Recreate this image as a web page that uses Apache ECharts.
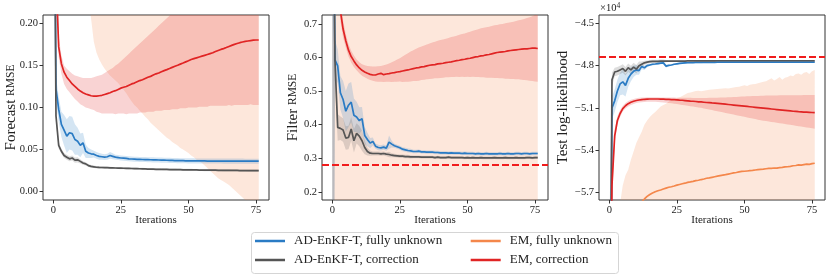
<!DOCTYPE html>
<html><head><meta charset="utf-8">
<script src="https://cdn.jsdelivr.net/npm/echarts@6/dist/echarts.min.js"></script>
<style>html,body{margin:0;padding:0;background:#fff}#c{width:831px;height:278px}</style>
</head><body><div id="c"></div>
<script>
// ---------- data ----------
const iterations = [...Array(77).keys()];
const seriesNames = ['AD-EnKF-T, fully unknown','AD-EnKF-T, correction','EM, fully unknown','EM, correction'];
const xTicks = [0,25,50,75];
const fcTicks = [0,0.05,0.10,0.15,0.20];
const flTicks = [0.2,0.3,0.4,0.5,0.6,0.7];
const llTicks = [-5.7,-5.4,-5.1,-4.8,-4.5];
const filterRef = 0.2775;
const llRef = -4.738;

// Panel 1: Forecast RMSE
const fcBlueMean = [0.60,0.122,0.098,0.080,0.073,0.066,0.070,0.069,0.062,0.060,
 0.055,0.058,0.048,0.046,0.045,0.0445,0.043,0.042,0.0415,0.041,
 0.0415,0.043,0.042,0.041,0.0405,0.0400,0.0398,0.0395,0.0390,0.0388,
 0.0386,0.0384,0.0383,0.0382,0.0381,0.0380,0.0379,0.0378,0.0377,0.0376,
 0.0375,0.0374,0.0373,0.0372,0.0371,0.0370,0.0369,0.0368,0.0368,0.0367,
 0.0366,0.0366,0.0366,0.0365,0.0365,0.0365,0.0365,0.0364,0.0364,0.0364,
 0.0364,0.0364,0.0364,0.0363,0.0363,0.0363,0.0363,0.0363,0.0363,0.0363,
 0.0363,0.0362,0.0362,0.0362,0.0362,0.0362,0.0362];
const fcBlueHalf = [0.05,0.015,0.015,0.015,0.018,0.020,0.020,0.020,0.018,0.016,
 0.014,0.012,0.008,0.006,0.005,0.004,0.004,0.004,0.0035,0.0035,
 0.0035,0.004,0.0035,0.003,0.003,0.003,0.003,0.003,0.003,0.003,
 0.003,0.003,0.003,0.003,0.003,0.003,0.003,0.003,0.003,0.003,
 0.003,0.003,0.003,0.003,0.003,0.003,0.003,0.003,0.003,0.003,
 0.003,0.003,0.003,0.003,0.003,0.003,0.003,0.003,0.003,0.003,
 0.003,0.003,0.003,0.003,0.003,0.003,0.003,0.003,0.003,0.003,
 0.003,0.003,0.003,0.003,0.003,0.003,0.003];
const fcBlackMean = [0.60,0.090,0.055,0.048,0.043,0.041,0.039,0.040,0.0375,0.0378,
 0.036,0.034,0.033,0.031,0.030,0.0295,0.029,0.0288,0.0287,0.0286,
 0.0285,0.0283,0.0282,0.0281,0.0280,0.0279,0.0278,0.0277,0.0276,0.0275,
 0.0274,0.0273,0.0272,0.0271,0.0270,0.0269,0.0268,0.0267,0.0266,0.0266,
 0.0265,0.0264,0.0264,0.0263,0.0262,0.0262,0.0261,0.0261,0.0260,0.0260,
 0.0259,0.0259,0.0258,0.0258,0.0257,0.0257,0.0256,0.0256,0.0255,0.0255,
 0.0255,0.0254,0.0254,0.0253,0.0253,0.0253,0.0252,0.0252,0.0252,0.0251,
 0.0251,0.0251,0.0250,0.0250,0.0250,0.0250,0.0250];
const fcBlackHalf = [0.05,0.008,0.004,0.003,0.003,0.003,0.003,0.003,0.003,0.003,
 0.0025,0.002,0.002,0.0018,0.0016,0.0015,0.0015,0.0015,0.0014,0.0014,
 0.0012,0.0012,0.0012,0.0012,0.0012,0.0012,0.0012,0.0012,0.0012,0.0012,
 0.0012,0.0012,0.0012,0.0012,0.0012,0.0012,0.0012,0.0012,0.0012,0.0012,
 0.0012,0.0012,0.0012,0.0012,0.0012,0.0012,0.0012,0.0012,0.0012,0.0012,
 0.0012,0.0012,0.0012,0.0012,0.0012,0.0012,0.0012,0.0012,0.0012,0.0012,
 0.0012,0.0012,0.0012,0.0012,0.0012,0.0012,0.0012,0.0012,0.0012,0.0012,
 0.0012,0.0012,0.0012,0.0012,0.0012,0.0012,0.0012];
const fcOrangeMean = [1.20,0.90,0.78,0.70,0.65,0.61,0.58,0.55,0.53,0.51,
 0.49,0.47,0.46,0.45,0.44,0.43,0.42,0.415,0.41,0.405,
 0.40,0.395,0.39,0.385,0.38,0.375,0.37,0.365,0.36,0.355,
 0.35,0.348,0.345,0.342,0.34,0.338,0.335,0.332,0.33,0.328,
 0.325,0.322,0.32,0.318,0.315,0.312,0.31,0.308,0.305,0.302,
 0.30,0.298,0.295,0.292,0.29,0.288,0.285,0.282,0.28,0.278,
 0.275,0.272,0.27,0.268,0.265,0.262,0.26,0.258,0.256,0.254,
 0.252,0.25,0.248,0.246,0.244,0.242,0.24];
const fcOrangeLo = [0.80,0.60,0.50,0.45,0.42,0.40,0.38,0.36,0.34,0.32,
 0.30,0.28,0.26,0.235,0.205,0.178,0.165,0.157,0.151,0.146,
 0.142,0.138,0.135,0.132,0.129,0.125,0.121,0.117,0.112,0.107,
 0.103,0.100,0.096,0.093,0.089,0.086,0.082,0.079,0.076,0.073,
 0.070,0.067,0.064,0.062,0.059,0.057,0.055,0.052,0.050,0.048,
 0.046,0.043,0.041,0.038,0.036,0.034,0.031,0.028,0.025,0.022,
 0.019,0.016,0.014,0.012,0.010,0.008,0.005,0.002,-0.001,-0.004,
 -0.007,-0.010,-0.013,-0.016,-0.019,-0.022,-0.025];
const fcOrangeHi = [2.0,1.6,1.4,1.3,1.2,1.1,1.05,1.0,0.95,0.92,
 0.9,0.88,0.86,0.84,0.83,0.82,0.81,0.8,0.79,0.78,
 0.77,0.76,0.75,0.74,0.73,0.72,0.71,0.7,0.69,0.68,
 0.67,0.67,0.66,0.66,0.65,0.65,0.64,0.64,0.63,0.63,
 0.62,0.62,0.61,0.61,0.6,0.6,0.59,0.59,0.58,0.58,
 0.57,0.57,0.56,0.56,0.55,0.55,0.54,0.54,0.54,0.53,
 0.53,0.53,0.52,0.52,0.52,0.51,0.51,0.51,0.5,0.5,
 0.5,0.5,0.5,0.5,0.5,0.5,0.5];
const fcRedMean = [1.00,0.26,0.172,0.152,0.142,0.136,0.132,0.128,0.125,0.122,
 0.1195,0.1175,0.116,0.115,0.114,0.1135,0.1135,0.114,0.1145,0.1155,
 0.1165,0.1175,0.119,0.120,0.1215,0.123,0.124,0.125,0.1265,0.128,
 0.129,0.1305,0.132,0.133,0.1345,0.136,0.137,0.1385,0.140,0.141,
 0.1425,0.1438,0.145,0.1463,0.1477,0.149,0.1502,0.1515,0.1528,0.1542,
 0.1555,0.157,0.158,0.159,0.160,0.161,0.162,0.163,0.164,0.165,
 0.1665,0.1678,0.169,0.170,0.1712,0.1725,0.1738,0.175,0.176,0.177,
 0.1778,0.1785,0.179,0.1795,0.180,0.1802,0.1802];
const fcRedLo = [0.80,0.22,0.160,0.140,0.128,0.122,0.118,0.114,0.110,0.107,
 0.104,0.102,0.100,0.099,0.098,0.097,0.095,0.094,0.093,0.093,
 0.093,0.093,0.093,0.092,0.093,0.093,0.093,0.092,0.093,0.093,
 0.093,0.093,0.094,0.094,0.094,0.095,0.095,0.095,0.096,0.096,
 0.096,0.097,0.097,0.097,0.098,0.098,0.098,0.099,0.099,0.099,
 0.100,0.100,0.100,0.100,0.101,0.101,0.101,0.101,0.102,0.102,
 0.102,0.102,0.102,0.102,0.102,0.103,0.102,0.103,0.103,0.103,
 0.103,0.103,0.103,0.104,0.103,0.103,0.103];
const fcRedHi = [1.20,0.30,0.185,0.162,0.150,0.146,0.143,0.140,0.138,0.137,
 0.136,0.135,0.135,0.135,0.135,0.136,0.137,0.138,0.139,0.141,
 0.143,0.145,0.147,0.150,0.152,0.155,0.158,0.161,0.164,0.167,
 0.170,0.173,0.176,0.179,0.182,0.185,0.188,0.191,0.194,0.197,
 0.200,0.203,0.206,0.209,0.212,0.215,0.218,0.221,0.224,0.227,
 0.230,0.233,0.236,0.239,0.242,0.245,0.248,0.251,0.254,0.257,
 0.260,0.263,0.266,0.269,0.272,0.275,0.278,0.281,0.284,0.287,
 0.290,0.293,0.296,0.299,0.302,0.305,0.308];

// Panel 2: Filter RMSE
const flBlueMean = [1.50,0.593,0.575,0.495,0.475,0.440,0.458,0.467,0.428,0.423,
 0.412,0.418,0.368,0.356,0.345,0.350,0.336,0.332,0.331,0.333,
 0.330,0.348,0.342,0.337,0.334,0.331,0.327,0.325,0.323,0.322,
 0.320,0.320,0.321,0.319,0.319,0.318,0.318,0.318,0.317,0.317,
 0.316,0.316,0.316,0.315,0.316,0.315,0.315,0.315,0.314,0.315,
 0.314,0.314,0.314,0.313,0.314,0.313,0.313,0.314,0.313,0.313,
 0.313,0.313,0.314,0.313,0.313,0.314,0.313,0.313,0.314,0.314,
 0.313,0.314,0.314,0.313,0.314,0.314,0.314];
const flBlueHalf = [3.0,0.06,0.05,0.05,0.055,0.06,0.065,0.06,0.05,0.045,
 0.04,0.035,0.025,0.02,0.015,0.012,0.008,0.008,0.008,0.008,
 0.008,0.02,0.01,0.006,0.006,0.006,0.006,0.006,0.006,0.006,
 0.005,0.005,0.005,0.005,0.005,0.005,0.005,0.005,0.005,0.005,
 0.005,0.005,0.005,0.005,0.005,0.005,0.005,0.005,0.005,0.005,
 0.005,0.005,0.005,0.005,0.005,0.005,0.005,0.005,0.005,0.005,
 0.005,0.005,0.005,0.005,0.005,0.005,0.005,0.005,0.005,0.005,
 0.005,0.005,0.005,0.005,0.005,0.005,0.005];
const flBlackMean = [1.50,0.590,0.392,0.389,0.384,0.360,0.362,0.387,0.352,0.374,
 0.366,0.352,0.332,0.320,0.315,0.314,0.314,0.314,0.313,0.314,
 0.312,0.311,0.309,0.308,0.307,0.306,0.306,0.305,0.305,0.304,
 0.304,0.304,0.304,0.303,0.303,0.303,0.303,0.303,0.302,0.303,
 0.302,0.302,0.302,0.303,0.302,0.302,0.302,0.302,0.302,0.301,
 0.302,0.301,0.302,0.301,0.301,0.302,0.301,0.301,0.301,0.301,
 0.302,0.301,0.301,0.301,0.302,0.301,0.301,0.301,0.302,0.301,
 0.301,0.301,0.302,0.302,0.301,0.302,0.302];
const flBlackHalf = [3.0,0.06,0.04,0.035,0.035,0.035,0.035,0.035,0.035,0.03,
 0.03,0.03,0.02,0.012,0.008,0.006,0.006,0.006,0.006,0.006,
 0.006,0.008,0.006,0.005,0.005,0.005,0.005,0.005,0.005,0.005,
 0.004,0.004,0.004,0.004,0.004,0.004,0.004,0.004,0.004,0.004,
 0.004,0.004,0.004,0.004,0.004,0.004,0.004,0.004,0.004,0.004,
 0.004,0.004,0.004,0.004,0.004,0.004,0.004,0.004,0.004,0.004,
 0.004,0.004,0.004,0.004,0.004,0.004,0.004,0.004,0.004,0.004,
 0.004,0.004,0.004,0.004,0.004,0.004,0.004];
const flOrangeMean = [3.5,2.6,2.2,1.95,1.8,1.7,1.62,1.55,1.5,1.46,
 1.42,1.39,1.36,1.34,1.32,1.3,1.28,1.27,1.26,1.25,
 1.24,1.23,1.22,1.21,1.2,1.19,1.18,1.17,1.16,1.15,
 1.15,1.14,1.14,1.13,1.13,1.12,1.12,1.11,1.11,1.1,
 1.1,1.09,1.09,1.08,1.08,1.07,1.07,1.06,1.06,1.05,
 1.05,1.05,1.04,1.04,1.04,1.03,1.03,1.03,1.02,1.02,
 1.02,1.01,1.01,1.01,1.0,1.0,1.0,0.99,0.99,0.99,
 0.98,0.98,0.98,0.97,0.97,0.97,0.96];
const flOrangeLo = [-3.0,-1.5,-1.0,-0.6,-0.4,-0.3,-0.2,-0.15,-0.1,-0.06,
 -0.03,0.0,0.01,0.02,0.03,0.04,0.05,0.05,0.06,0.06,
 0.07,0.07,0.08,0.08,0.08,0.09,0.09,0.09,0.09,0.1,
 0.1,0.1,0.1,0.1,0.1,0.11,0.11,0.11,0.11,0.11,
 0.11,0.11,0.12,0.12,0.12,0.12,0.12,0.12,0.12,0.12,
 0.12,0.12,0.12,0.12,0.12,0.12,0.12,0.12,0.12,0.12,
 0.12,0.12,0.12,0.12,0.12,0.12,0.12,0.12,0.12,0.12,
 0.12,0.12,0.12,0.12,0.12,0.12,0.12];
const flOrangeHi = [10.0,6.7,5.4,4.5,4.0,3.7,3.44,3.25,3.1,2.98,
 2.87,2.78,2.71,2.66,2.61,2.56,2.51,2.49,2.46,2.44,
 2.41,2.39,2.36,2.34,2.32,2.29,2.27,2.25,2.23,2.2,
 2.2,2.18,2.18,2.16,2.16,2.13,2.13,2.11,2.11,2.09,
 2.09,2.07,2.06,2.04,2.04,2.02,2.02,2.0,2.0,1.98,
 1.98,1.98,1.96,1.96,1.96,1.94,1.94,1.94,1.92,1.92,
 1.92,1.9,1.9,1.9,1.88,1.88,1.88,1.86,1.86,1.86,
 1.84,1.84,1.84,1.82,1.82,1.82,1.8];
const flRedMean = [3.00,1.40,0.95,0.74,0.685,0.650,0.622,0.603,0.590,0.578,
 0.569,0.562,0.557,0.553,0.550,0.548,0.548,0.551,0.553,0.549,
 0.551,0.552,0.554,0.555,0.557,0.558,0.560,0.562,0.563,0.565,
 0.567,0.569,0.570,0.572,0.573,0.575,0.577,0.578,0.579,0.581,
 0.582,0.583,0.585,0.586,0.587,0.589,0.591,0.592,0.594,0.595,
 0.597,0.598,0.600,0.602,0.603,0.605,0.606,0.608,0.609,0.611,
 0.613,0.615,0.616,0.617,0.618,0.620,0.621,0.622,0.623,0.624,
 0.625,0.626,0.626,0.627,0.628,0.628,0.627];
const flRedHi = [3.2,1.6,1.05,0.77,0.71,0.67,0.64,0.62,0.606,0.594,
 0.586,0.580,0.577,0.575,0.574,0.573,0.573,0.574,0.575,0.577,
 0.579,0.582,0.586,0.590,0.594,0.598,0.603,0.608,0.613,0.618,
 0.622,0.626,0.630,0.633,0.636,0.639,0.642,0.645,0.647,0.650,
 0.652,0.654,0.656,0.658,0.661,0.663,0.665,0.668,0.670,0.672,
 0.675,0.677,0.680,0.682,0.684,0.687,0.689,0.690,0.692,0.694,
 0.696,0.697,0.699,0.700,0.702,0.704,0.705,0.707,0.709,0.711,
 0.713,0.715,0.718,0.720,0.723,0.727,0.730];
const flRedLo = [2.8,1.2,0.85,0.71,0.66,0.63,0.603,0.585,0.572,0.562,
 0.553,0.546,0.541,0.537,0.533,0.531,0.529,0.528,0.528,0.527,
 0.528,0.528,0.527,0.528,0.528,0.529,0.527,0.528,0.528,0.529,
 0.530,0.530,0.531,0.533,0.534,0.535,0.536,0.537,0.538,0.538,
 0.539,0.540,0.541,0.541,0.542,0.542,0.543,0.542,0.543,0.542,
 0.543,0.542,0.543,0.542,0.542,0.541,0.541,0.540,0.540,0.540,
 0.539,0.539,0.538,0.538,0.537,0.537,0.536,0.536,0.535,0.535,
 0.534,0.533,0.532,0.531,0.530,0.529,0.528];

// Panel 3: Test log-likelihood (x1e4)
const llBlueMean = [-8.50,-5.100,-5.050,-4.980,-4.930,-4.915,-4.940,-4.890,-4.860,-4.840,
 -4.830,-4.835,-4.805,-4.815,-4.800,-4.795,-4.790,-4.788,-4.785,-4.782,
 -4.780,-4.803,-4.798,-4.795,-4.790,-4.787,-4.784,-4.782,-4.780,-4.779,
 -4.778,-4.778,-4.777,-4.777,-4.777,-4.776,-4.776,-4.776,-4.776,-4.776,
 -4.775,-4.775,-4.775,-4.775,-4.775,-4.775,-4.775,-4.775,-4.775,-4.775,
 -4.775,-4.775,-4.775,-4.775,-4.775,-4.775,-4.775,-4.775,-4.775,-4.775,
 -4.775,-4.775,-4.775,-4.775,-4.775,-4.775,-4.775,-4.775,-4.775,-4.775,
 -4.775,-4.775,-4.775,-4.775,-4.775,-4.775,-4.775];
const llBlueHalf = [2.0,0.08,0.08,0.08,0.08,0.09,0.08,0.06,0.05,0.04,
 0.035,0.03,0.02,0.015,0.012,0.008,0.008,0.008,0.008,0.008,
 0.008,0.012,0.006,0.006,0.006,0.006,0.006,0.006,0.006,0.006,
 0.005,0.005,0.005,0.005,0.005,0.005,0.005,0.005,0.005,0.005,
 0.005,0.005,0.005,0.005,0.005,0.005,0.005,0.005,0.005,0.005,
 0.005,0.005,0.005,0.005,0.005,0.005,0.005,0.005,0.005,0.005,
 0.005,0.005,0.005,0.005,0.005,0.005,0.005,0.005,0.005,0.005,
 0.005,0.005,0.005,0.005,0.005,0.005,0.005];
const llBlackMean = [-8.00,-4.900,-4.845,-4.840,-4.830,-4.820,-4.840,-4.815,-4.830,-4.810,
 -4.825,-4.800,-4.790,-4.780,-4.775,-4.771,-4.770,-4.769,-4.769,-4.768,
 -4.768,-4.768,-4.768,-4.767,-4.767,-4.767,-4.767,-4.767,-4.767,-4.766,
 -4.766,-4.766,-4.766,-4.766,-4.766,-4.766,-4.766,-4.766,-4.766,-4.766,
 -4.765,-4.765,-4.765,-4.765,-4.765,-4.765,-4.765,-4.765,-4.765,-4.765,
 -4.765,-4.765,-4.765,-4.765,-4.765,-4.765,-4.765,-4.765,-4.765,-4.765,
 -4.765,-4.765,-4.765,-4.765,-4.765,-4.765,-4.765,-4.765,-4.765,-4.765,
 -4.765,-4.765,-4.765,-4.765,-4.765,-4.765,-4.765];
const llBlackHalf = [2.0,0.05,0.03,0.03,0.03,0.03,0.03,0.03,0.03,0.03,
 0.03,0.03,0.02,0.015,0.012,0.012,0.012,0.012,0.012,0.012,
 0.012,0.008,0.006,0.005,0.005,0.005,0.005,0.005,0.005,0.005,
 0.005,0.005,0.005,0.005,0.005,0.005,0.005,0.005,0.005,0.005,
 0.005,0.005,0.005,0.005,0.005,0.005,0.005,0.005,0.005,0.005,
 0.005,0.005,0.005,0.005,0.005,0.005,0.005,0.005,0.005,0.005,
 0.005,0.005,0.005,0.005,0.005,0.005,0.005,0.005,0.005,0.005,
 0.005,0.005,0.005,0.005,0.005,0.005,0.005];
const llOrangeMean = [-8.0,-6.8,-6.4,-6.2,-6.1,-6.02,-5.96,-5.91,-5.87,-5.84,
 -5.81,-5.79,-5.77,-5.748,-5.73,-5.716,-5.706,-5.697,-5.69,-5.684,
 -5.677,-5.671,-5.665,-5.661,-5.656,-5.650,-5.645,-5.640,-5.636,-5.630,
 -5.627,-5.623,-5.618,-5.615,-5.610,-5.606,-5.601,-5.598,-5.594,-5.590,
 -5.586,-5.582,-5.578,-5.575,-5.571,-5.567,-5.563,-5.560,-5.556,-5.552,
 -5.551,-5.549,-5.547,-5.545,-5.542,-5.540,-5.538,-5.536,-5.533,-5.531,
 -5.530,-5.528,-5.529,-5.525,-5.523,-5.520,-5.519,-5.516,-5.512,-5.510,
 -5.506,-5.508,-5.504,-5.500,-5.502,-5.497,-5.494];
const llOrangeHi = [-7.0,-6.6,-6.3,-6.0,-5.78,-5.65,-5.58,-5.54,-5.47,-5.41,
 -5.35,-5.31,-5.27,-5.22,-5.19,-5.165,-5.145,-5.13,-5.11,-5.09,
 -5.08,-5.07,-5.055,-5.045,-5.04,-5.03,-5.025,-5.015,-5.005,-4.995,
 -4.99,-4.985,-4.98,-4.978,-4.982,-4.978,-4.975,-4.972,-4.97,-4.968,
 -4.966,-4.965,-4.963,-4.96,-4.962,-4.958,-4.955,-4.952,-4.95,-4.945,
 -4.94,-4.945,-4.935,-4.932,-4.93,-4.925,-4.92,-4.915,-4.91,-4.9,
 -4.89,-4.905,-4.895,-4.88,-4.9,-4.885,-4.88,-4.87,-4.875,-4.86,
 -4.855,-4.865,-4.85,-4.845,-4.86,-4.84,-4.83];
const llOrangeLo = [-9.0,-7.0,-6.5,-6.4,-6.42,-6.39,-6.34,-6.28,-6.27,-6.27,
 -6.27,-6.27,-6.27,-6.28,-6.27,-6.27,-6.27,-6.26,-6.27,-6.28,
 -6.27,-6.27,-6.28,-6.28,-6.27,-6.27,-6.27,-6.27,-6.27,-6.27,
 -6.26,-6.26,-6.26,-6.25,-6.24,-6.23,-6.23,-6.22,-6.22,-6.21,
 -6.21,-6.2,-6.19,-6.19,-6.18,-6.18,-6.17,-6.17,-6.16,-6.16,
 -6.16,-6.15,-6.16,-6.16,-6.15,-6.16,-6.16,-6.16,-6.16,-6.16,
 -6.17,-6.15,-6.16,-6.17,-6.15,-6.16,-6.16,-6.16,-6.15,-6.16,
 -6.16,-6.15,-6.16,-6.16,-6.14,-6.15,-6.16];
const llRedMean = [-8.0,-5.65,-5.30,-5.19,-5.14,-5.105,-5.085,-5.07,-5.06,-5.053,
 -5.048,-5.044,-5.041,-5.039,-5.038,-5.037,-5.037,-5.037,-5.037,-5.038,
 -5.038,-5.039,-5.04,-5.041,-5.042,-5.043,-5.045,-5.046,-5.048,-5.05,
 -5.052,-5.053,-5.055,-5.057,-5.058,-5.06,-5.062,-5.063,-5.065,-5.066,
 -5.068,-5.07,-5.072,-5.074,-5.076,-5.078,-5.08,-5.082,-5.084,-5.086,
 -5.088,-5.09,-5.092,-5.094,-5.096,-5.098,-5.1,-5.102,-5.104,-5.106,
 -5.108,-5.11,-5.112,-5.114,-5.116,-5.118,-5.12,-5.122,-5.124,-5.125,
 -5.127,-5.128,-5.13,-5.131,-5.132,-5.133,-5.134];
const llRedHi = [-7.5,-5.55,-5.25,-5.16,-5.115,-5.085,-5.065,-5.052,-5.043,-5.037,
 -5.032,-5.029,-5.027,-5.026,-5.025,-5.025,-5.025,
 -5.025,-5.025,-5.026,-5.026,-5.026,-5.027,-5.027,-5.027,-5.028,-5.028,
 -5.028,-5.029,-5.029,-5.029,-5.03,-5.03,-5.03,-5.03,-5.03,-5.03,
 -5.029,-5.029,-5.028,-5.028,-5.027,-5.027,-5.026,-5.025,-5.024,-5.023,
 -5.022,-5.021,-5.02,-5.019,-5.018,-5.017,-5.016,-5.015,-5.015,-5.014,
 -5.014,-5.013,-5.013,-5.012,-5.012,-5.012,-5.011,-5.011,-5.011,-5.01,
 -5.01,-5.01,-5.01,-5.01,-5.01,-5.009,-5.009,-5.009,-5.009,-5.009];
const llRedLo = [-8.5,-5.75,-5.35,-5.22,-5.165,-5.125,-5.105,-5.09,-5.08,-5.072,
 -5.066,-5.062,-5.06,-5.058,-5.057,-5.056,-5.056,-5.057,-5.058,-5.06,
 -5.062,-5.064,-5.066,-5.068,-5.07,-5.073,-5.076,-5.079,-5.082,-5.085,
 -5.088,-5.091,-5.094,-5.097,-5.1,-5.104,-5.108,-5.112,-5.116,-5.12,
 -5.124,-5.128,-5.132,-5.136,-5.14,-5.144,-5.148,-5.152,-5.156,-5.16,
 -5.164,-5.168,-5.172,-5.176,-5.18,-5.184,-5.188,-5.191,-5.194,-5.197,
 -5.2,-5.203,-5.206,-5.209,-5.212,-5.215,-5.218,-5.221,-5.224,-5.227,
 -5.23,-5.233,-5.236,-5.239,-5.242,-5.245,-5.248];

// ---------- chart ----------
const FONT = 'Liberation Serif';
const TXT = '#222';
const COL = {blue:'#2a7bc4', black:'#555555', orange:'#f4874b', red:'#e02424', ref:'#f01c1c'};
const chart = echarts.init(document.getElementById('c'), null, {renderer:'canvas'});

const sub = (m,h)=>m.map((v,i)=>v-h[i]);
const add = (m,h)=>m.map((v,i)=>v+h[i]);

function band(ax, lo, hi, color, alpha){
  return {type:'custom', xAxisIndex:ax, yAxisIndex:ax, silent:true, z:1, animation:false,
    data:[[iterations[0], 0]],
    renderItem(params, api){
      const pts=[];
      for (let i=0;i<iterations.length;i++) pts.push(api.coord([iterations[i], hi[i]]));
      for (let i=iterations.length-1;i>=0;i--) pts.push(api.coord([iterations[i], lo[i]]));
      const cs = params.coordSys;
      return {type:'polygon', shape:{points:pts}, style:{fill:color, opacity:alpha},
        clipPath:{type:'rect', shape:{x:cs.x, y:cs.y, width:cs.width, height:cs.height}}};
    }};
}
function line(ax, nameIdx, vals, color, extra){
  return Object.assign({type:'line', name:seriesNames[nameIdx], xAxisIndex:ax, yAxisIndex:ax,
    data: iterations.map((x,i)=>[x, vals[i]]), symbol:'none', showSymbol:false, clip:true,
    lineStyle:{color, width:1.7}, itemStyle:{color}, z:3, animation:false}, extra||{});
}
function refLine(v){
  return {silent:true, symbol:'none', label:{show:false},
    lineStyle:{color:COL.ref, type:[7,3], width:2}, data:[{yAxis:v}]};
}

const grids = [
  {left:43, top:15, width:226, height:185},
  {left:322, top:15, width:226, height:185},
  {left:599, top:15, width:226, height:185}
].map(g=>Object.assign(g,{show:true, borderColor:'#333', borderWidth:1, backgroundColor:'transparent'}));

function xAx(i){
  return {type:'value', gridIndex:i, min:-3.8, max:79.8, name:'Iterations', nameLocation:'middle', nameGap:15,
    nameMoveOverlap:false,
    nameTextStyle:{fontFamily:FONT, fontSize:11, color:TXT},
    axisLine:{show:false, onZero:false},
    axisTick:{show:true, length:3.5, lineStyle:{color:'#333'}, customValues:xTicks},
    axisLabel:{customValues:xTicks, fontFamily:FONT, fontSize:10.5, color:TXT, margin:5},
    splitLine:{show:false}};
}
function yAx(i, min, max, ticks, fmt, name, gap, rich){
  return {type:'value', gridIndex:i, min, max, name, nameLocation:'middle', nameGap:gap, nameRotate:90,
    nameMoveOverlap:false,
    nameTextStyle:{fontFamily:FONT, fontSize:15, color:TXT, rich:rich||{}},
    axisLine:{show:false, onZero:false},
    axisTick:{show:true, length:3.5, lineStyle:{color:'#333'}, customValues:ticks},
    axisLabel:{customValues:ticks, fontFamily:FONT, fontSize:10.5, color:TXT, margin:5, formatter:fmt},
    splitLine:{show:false}};
}
const richName = {a:{fontFamily:FONT, fontSize:15, color:TXT}, b:{fontFamily:FONT, fontSize:11.5, color:TXT}};
const minus = v => (v<0?'\u2212':'') + Math.abs(v).toFixed(1);

const legendCommon = {orient:'vertical', top:233.5, itemWidth:30, itemHeight:2.5, itemGap:4, icon:'rect', padding:0,
  selectedMode:false, textStyle:{fontFamily:FONT, fontSize:13, color:TXT, lineHeight:15, padding:[0,0,0,4]}};

const series = [
  // panel 1
  band(0, fcOrangeLo, fcOrangeHi, COL.orange, 0.2),
  band(0, fcRedLo, fcRedHi, COL.red, 0.2),
  band(0, sub(fcBlueMean,fcBlueHalf), add(fcBlueMean,fcBlueHalf), COL.blue, 0.2),
  band(0, sub(fcBlackMean,fcBlackHalf), add(fcBlackMean,fcBlackHalf), COL.black, 0.2),
  line(0, 0, fcBlueMean, COL.blue),
  line(0, 1, fcBlackMean, COL.black),
  line(0, 2, fcOrangeMean, COL.orange),
  line(0, 3, fcRedMean, COL.red),
  // panel 2
  band(1, flOrangeLo, flOrangeHi, COL.orange, 0.2),
  band(1, flRedLo, flRedHi, COL.red, 0.2),
  band(1, sub(flBlueMean,flBlueHalf), add(flBlueMean,flBlueHalf), COL.blue, 0.2),
  band(1, sub(flBlackMean,flBlackHalf), add(flBlackMean,flBlackHalf), COL.black, 0.2),
  line(1, 0, flBlueMean, COL.blue),
  line(1, 1, flBlackMean, COL.black),
  line(1, 2, flOrangeMean, COL.orange),
  line(1, 3, flRedMean, COL.red, {markLine: refLine(filterRef)}),
  // panel 3
  band(2, llOrangeLo, llOrangeHi, COL.orange, 0.2),
  band(2, llRedLo, llRedHi, COL.red, 0.2),
  band(2, sub(llBlueMean,llBlueHalf), add(llBlueMean,llBlueHalf), COL.blue, 0.2),
  band(2, sub(llBlackMean,llBlackHalf), add(llBlackMean,llBlackHalf), COL.black, 0.2),
  line(2, 0, llBlueMean, COL.blue),
  line(2, 1, llBlackMean, COL.black),
  line(2, 2, llOrangeMean, COL.orange),
  line(2, 3, llRedMean, COL.red, {markLine: refLine(llRef)})
];

chart.setOption({
  animation:false,
  grid: grids,
  xAxis: [xAx(0), xAx(1), xAx(2)],
  yAxis: [
    yAx(0, -0.0099, 0.2099, fcTicks, v=>v.toFixed(2), '{a|Forecast} {b|RMSE}', 24.5, richName),
    yAx(1, 0.1755, 0.7268, flTicks, v=>v.toFixed(1), '{a|Filter} {b|RMSE}', 21.5, richName),
    yAx(2, -5.7555, -4.4395, llTicks, minus, 'Test log-likelihood', 28.5)
  ],
  legend: [
    Object.assign({}, legendCommon, {left:255, data:[seriesNames[0], seriesNames[1]]}),
    Object.assign({}, legendCommon, {left:470.7, data:[seriesNames[2], seriesNames[3]]})
  ],
  graphic: [
    {type:'rect', left:251, top:232, z:-1, silent:true,
     shape:{width:367, height:41, r:3}, style:{fill:'rgba(255,255,255,0.8)', stroke:'#d5d5d5', lineWidth:1}},
    {type:'text', left:600, top:2, silent:true,
     style:{text:'{a|\u00d710}{b|4}', rich:{a:{fontFamily:FONT, fontSize:10.5, fill:TXT}, b:{fontFamily:FONT, fontSize:7.5, fill:TXT, verticalAlign:'top', padding:[0,0,5,0]}}}}
  ],
  series
});
</script>
</body></html>
